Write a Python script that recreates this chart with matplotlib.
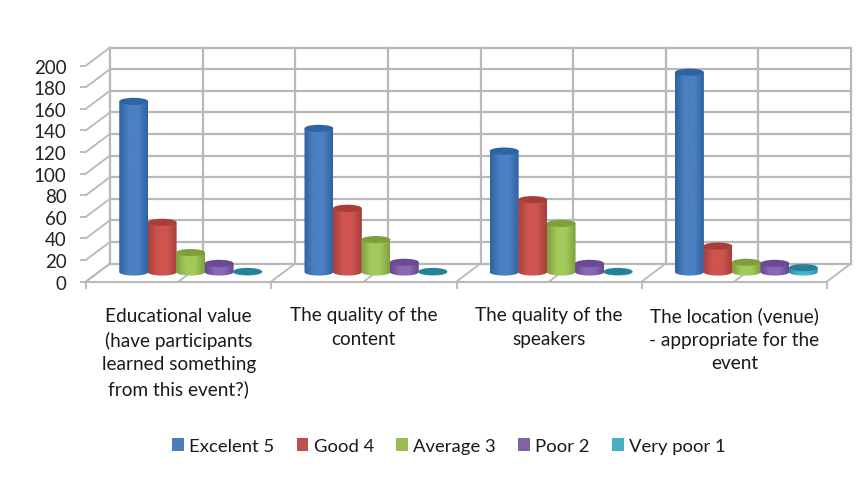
import numpy as np
import matplotlib.pyplot as plt
from matplotlib.colors import LinearSegmentedColormap
from matplotlib.patches import Ellipse, Patch, Polygon

categories = [
    "Educational value\n(have participants\nlearned something\nfrom this event?)",
    "The quality of the\ncontent",
    "The quality of the\nspeakers",
    "The location (venue)\n- appropriate for the\nevent",
]
series_names = ["Excelent 5", "Good 4", "Average 3", "Poor 2", "Very poor 1"]
excelent = [158, 133, 112, 185]
good = [46, 59, 67, 24]
average = [18, 30, 45, 9]
poor = [8, 9, 8, 8]
very_poor = [0.5, 0.5, 0.5, 4]
y_ticks = list(range(0, 201, 20))

series = [excelent, good, average, poor, very_poor]
legend_colors = ["#4a7ebb", "#c0504d", "#9bbb59", "#8064a2", "#4bacc6"]
edge_colors = ["#2f62a0", "#a63f3c", "#7f9f3f", "#64498f", "#2f94ad"]
mid_colors = ["#4b80c2", "#cf544e", "#a3c95a", "#8a67b5", "#45b5d0"]
cap_colors = ["#2f64a2", "#a83d3a", "#7f9f3c", "#6a4a94", "#248198"]

GRID = "#b8b8b8"
bar_w = 0.156
depth_x = 24 / 185.25      # wall offset in data units
depth_y = 18 / 1.08
ell_h = 3.3                # half height of the cylinder ends


def cylinder(ax, xc, val, i, z):
    x0, x1 = xc - bar_w / 2, xc + bar_w / 2
    t = np.linspace(np.pi, 2 * np.pi, 40)
    xs = xc + bar_w / 2 * np.cos(t)
    ys = ell_h * np.sin(t)
    pts = list(zip(xs, ys)) + [(x1, val), (x0, val)]
    body = Polygon(pts, closed=True, transform=ax.transData, fc="none", ec="none")
    ax.add_patch(body)
    cmap = LinearSegmentedColormap.from_list(
        "c", [edge_colors[i], mid_colors[i], mid_colors[i], edge_colors[i]])
    im = ax.imshow(np.linspace(0, 1, 64)[None, :], cmap=cmap, aspect="auto",
                   extent=(x0, x1, -ell_h, val), zorder=z)
    im.set_clip_path(body)
    im.set_clip_box(ax.figure.bbox)
    ax.add_patch(Ellipse((xc, val), bar_w, 2 * ell_h, fc=cap_colors[i], ec="none",
                         zorder=z + 0.1, clip_on=False))


fig = plt.figure(figsize=(8.67, 4.81), dpi=100)
plt.rcParams["font.family"] = ["Lato", "DejaVu Sans"]
ax = fig.add_axes([86 / 867, 198.5 / 481, 741 / 867, 216 / 481])

# back wall, side wall and floor
for v in y_ticks:
    ax.plot([depth_x, 4 + depth_x], [v + depth_y] * 2, color=GRID, lw=1.6, clip_on=False, zorder=1)
    ax.plot([0, depth_x], [v, v + depth_y], color=GRID, lw=1.3, clip_on=False, zorder=1)
for k in np.arange(0, 4.01, 0.5):
    ax.plot([k + depth_x] * 2, [depth_y, 200 + depth_y], color=GRID, lw=1.6, clip_on=False, zorder=1)
    ax.plot([k, k + depth_x], [0, depth_y], color=GRID, lw=1.3, clip_on=False, zorder=1)

ax.set_xlim(0, 4)
ax.set_ylim(0, 200)
for s in ["top", "right", "left"]:
    ax.spines[s].set_visible(False)
ax.spines["bottom"].set_color(GRID)
ax.spines["bottom"].set_linewidth(1.5)
ax.set_yticks(y_ticks)
ax.set_xticks(range(5))
ax.set_xticklabels([""] * 5)
ax.tick_params(axis="both", color=GRID, width=1.3, length=5)
ax.tick_params(axis="y", length=4, labelsize=13.5, labelcolor="#222222", pad=10)

for g, label in enumerate(categories):
    ax.annotate(label, (g + 0.5, 0), xytext=(0, -18), textcoords="offset points",
                ha="center", va="top", fontsize=13.7, color="#1a1a1a", linespacing=1.465,
                annotation_clip=False)

# bars stand half way into the floor, so they get an axes moved half the depth back
ax2 = fig.add_axes([98 / 867, 208 / 481, 741 / 867, 216 / 481], frameon=False)
ax2.set_xticks([])
ax2.set_yticks([])
for g in range(len(categories)):
    for i, vals in enumerate(series):
        xc = g + 0.5 + (i - 2) * bar_w * 0.985
        cylinder(ax2, xc, vals[g], i, 3 + g * 10 + i)
ax2.set_xlim(0, 4)
ax2.set_ylim(0, 200)

handles = [Patch(fc=c, lw=0, label=n) for c, n in zip(legend_colors, series_names)]
fig.legend(handles=handles, loc="center", bbox_to_anchor=(449 / 867, 1 - 447 / 481), ncol=5,
           frameon=False, fontsize=13.3, labelcolor="#1a1a1a", handlelength=0.63,
           handleheight=0.63, handletextpad=0.3, columnspacing=1.2)

fig.savefig("out.png", dpi=100)
